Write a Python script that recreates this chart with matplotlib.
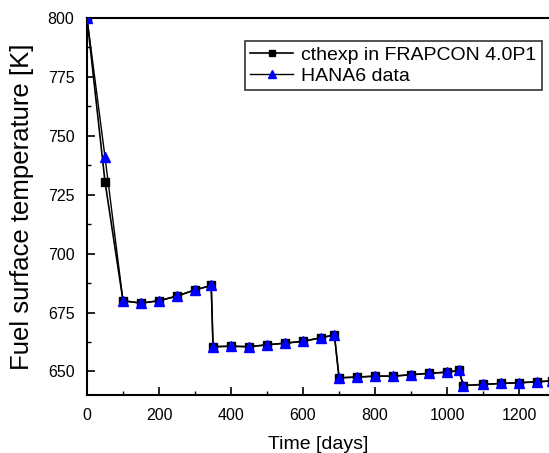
import matplotlib
matplotlib.use("Agg")
import matplotlib.pyplot as plt
from matplotlib.ticker import MultipleLocator

plt.rcParams['font.family'] = ['Liberation Sans', 'DejaVu Sans']

days = [0, 50, 100, 150, 200, 250, 300, 345, 350, 400, 450, 500, 550, 600, 650,
        687, 700, 750, 800, 850, 900, 950, 1000, 1033, 1045, 1100, 1150, 1200, 1250, 1290]
cthexp = [800, 730.5, 680, 679, 680, 682, 684.6, 686.5, 660.5, 660.7, 660.5, 661.3, 662, 662.8, 664.3,
          665.5, 647.3, 647.6, 648, 648, 648.6, 649.2, 649.7, 650.4, 644, 644.5, 644.9, 645.2, 645.6, 646]
hana6 = [800, 741, 680, 679, 680, 682, 684.6, 686.5, 660.5, 660.7, 660.5, 661.3, 662, 662.8, 664.3,
         665.5, 647.3, 647.6, 648, 648, 648.6, 649.2, 649.7, 650.4, 644, 644.5, 644.9, 645.2, 645.6, 646]

fig = plt.figure(figsize=(5.49, 4.53), dpi=100)
ax = fig.add_axes([87/549, 58/453, 1 - 87/549, 377/453])

ax.plot(days, cthexp, color='black', lw=1.2, marker='s', ms=6, mfc='black', mec='black',
        label='cthexp in FRAPCON 4.0P1', zorder=3)
ax.plot(days, hana6, color='black', lw=1.0, marker='^', ms=7.5, mfc='blue', mec='blue',
        label='HANA6 data', zorder=4)

ax.set_xlim(0, 1283)
ax.set_ylim(640, 800)
ax.xaxis.set_major_locator(MultipleLocator(200))
ax.xaxis.set_minor_locator(MultipleLocator(100))
ax.yaxis.set_major_locator(MultipleLocator(25))
ax.yaxis.set_minor_locator(MultipleLocator(12.5))
ax.tick_params(which='major', direction='in', length=6, width=1.2, labelsize=11.5, pad=9)
ax.tick_params(which='minor', direction='in', length=3, width=1.0)
ax.tick_params(axis='x', which='both', top=False)
ax.spines['right'].set_visible(False)
for s in ['left', 'bottom', 'top']:
    ax.spines[s].set_linewidth(1.5)

ax.set_xlabel('Time [days]', fontsize=14, labelpad=10)
ax.set_ylabel('Fuel surface temperature [K]', fontsize=18.5, labelpad=10)

leg = ax.legend(loc='upper right', bbox_to_anchor=(0.985, 0.94), fontsize=14, frameon=True,
                fancybox=False, edgecolor='black', handlelength=2.2, handletextpad=0.4,
                borderpad=0.3, labelspacing=0.15, borderaxespad=0, markerscale=0.75)
leg.get_frame().set_linewidth(1.2)

fig.savefig('out.png', dpi=100)
